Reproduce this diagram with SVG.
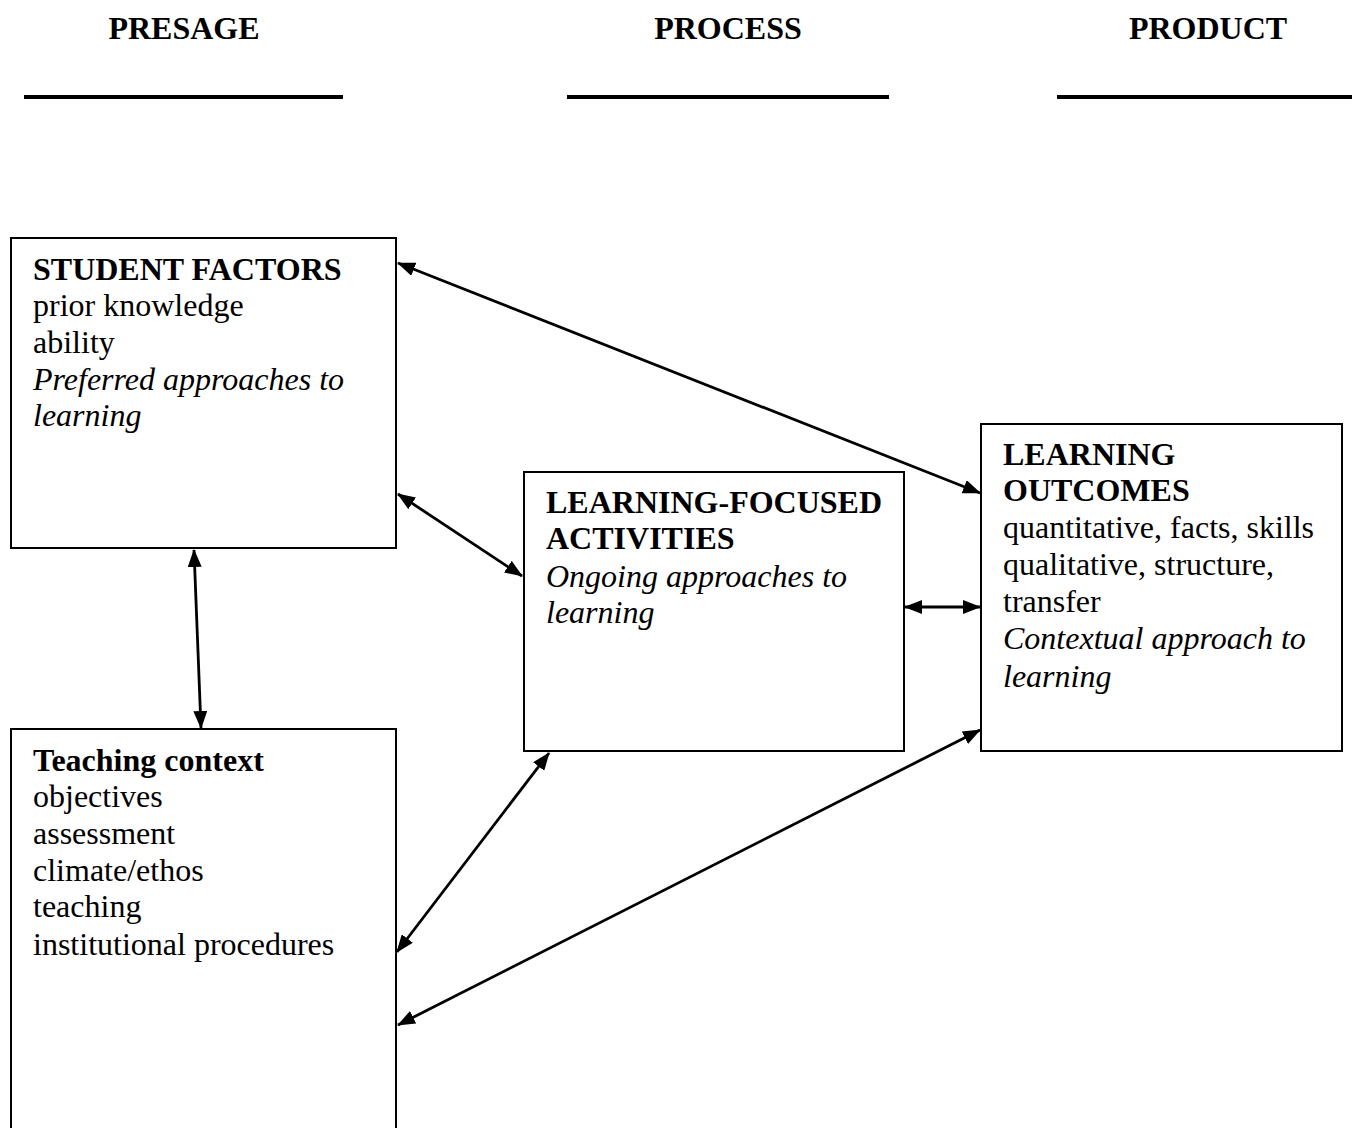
<svg xmlns="http://www.w3.org/2000/svg" width="1352" height="1128" viewBox="0 0 1352 1128">
<style>
text{font-family:"Liberation Serif","Times New Roman",serif;font-size:32px;fill:#000}
.b{font-weight:bold}
.i{font-style:italic}
.box{fill:#fff;stroke:#000;stroke-width:2}
.rule{stroke:#000;stroke-width:4}
.con{stroke:#000;stroke-width:2.8;fill:none;marker-start:url(#ah);marker-end:url(#ah)}
</style>
<defs>
<marker id="ah" viewBox="0 0 18 14" refX="17" refY="7" markerWidth="18" markerHeight="14" markerUnits="userSpaceOnUse" orient="auto-start-reverse">
<path d="M0,0 L18,7 L0,14 Z" fill="#000"/>
</marker>
</defs>
<rect width="1352" height="1128" fill="#fff"/>
<g id="headers">
<text class="b" x="184" y="39" text-anchor="middle">PRESAGE</text>
<text class="b" x="728" y="39" text-anchor="middle">PROCESS</text>
<text class="b" x="1208" y="39" text-anchor="middle">PRODUCT</text>
<line class="rule" x1="24" y1="97" x2="343" y2="97"/>
<line class="rule" x1="567" y1="97" x2="889" y2="97"/>
<line class="rule" x1="1057" y1="97" x2="1352" y2="97"/>
</g>
<g id="student-factors">
<rect class="box" x="11" y="238" width="385" height="310"/>
<text class="b" x="33" y="280">STUDENT FACTORS</text>
<text x="33" y="316">prior knowledge</text>
<text x="33" y="353">ability</text>
<text class="i" x="33" y="390">Preferred approaches to</text>
<text class="i" x="33" y="426">learning</text>
</g>
<g id="teaching-context">
<rect class="box" x="11" y="729" width="385" height="420"/>
<text class="b" x="33" y="771">Teaching context</text>
<text x="33" y="807">objectives</text>
<text x="33" y="844">assessment</text>
<text x="33" y="881">climate/ethos</text>
<text x="33" y="917">teaching</text>
<text x="33" y="955">institutional procedures</text>
</g>
<g id="learning-focused-activities">
<rect class="box" x="524" y="472" width="380" height="279"/>
<text class="b" x="546" y="513">LEARNING-FOCUSED</text>
<text class="b" x="546" y="549">ACTIVITIES</text>
<text class="i" x="546" y="587">Ongoing approaches to</text>
<text class="i" x="546" y="623">learning</text>
</g>
<g id="learning-outcomes">
<rect class="box" x="981" y="424" width="361" height="327"/>
<text class="b" x="1003" y="465">LEARNING</text>
<text class="b" x="1003" y="501">OUTCOMES</text>
<text x="1003" y="538">quantitative, facts, skills</text>
<text x="1003" y="575">qualitative, structure,</text>
<text x="1003" y="612">transfer</text>
<text class="i" x="1003" y="649">Contextual approach to</text>
<text class="i" x="1003" y="687">learning</text>
</g>
<g id="connectors">
<line class="con" x1="398" y1="263" x2="980" y2="493"/>
<line class="con" x1="398" y1="494" x2="522" y2="576"/>
<line class="con" x1="194" y1="550" x2="201" y2="728"/>
<line class="con" x1="905" y1="607" x2="980" y2="607"/>
<line class="con" x1="549" y1="753" x2="397" y2="952"/>
<line class="con" x1="398" y1="1025" x2="980" y2="730"/>
</g>
</svg>
